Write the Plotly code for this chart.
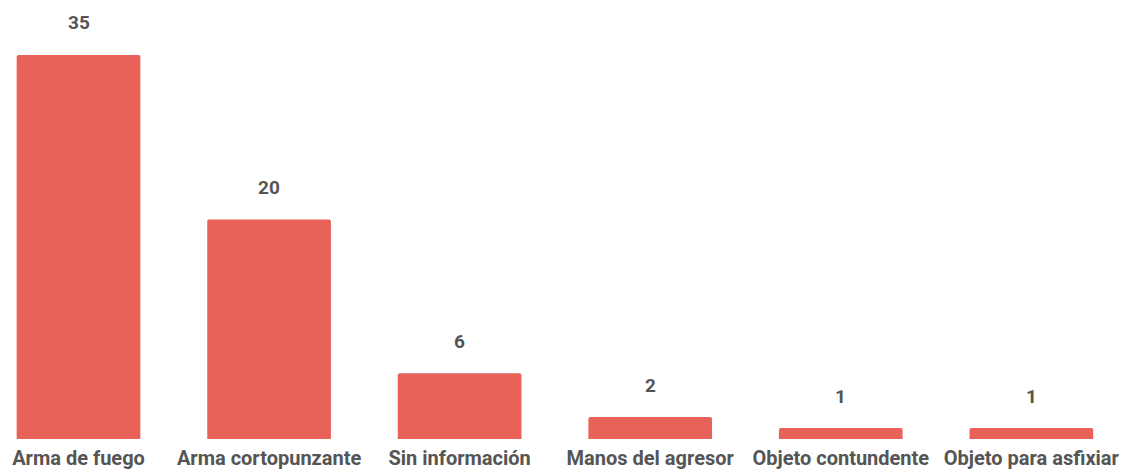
import plotly.graph_objects as go

categories = ["Arma de fuego", "Arma cortopunzante", "Sin información",
              "Manos del agresor", "Objeto contundente", "Objeto para asfixiar"]
values = [35, 20, 6, 2, 1, 1]

bar_color = "#E8625A"
text_color = "#555555"

fig = go.Figure()
fig.add_trace(go.Bar(
    x=list(range(len(categories))), y=values,
    marker=dict(color=bar_color, line=dict(width=0), cornerradius=2),
    hoverinfo="skip",
))

for i, v in enumerate(values):
    fig.add_annotation(x=i, y=v, text=str(v), showarrow=False,
                       yanchor="middle", yshift=32,
                       font=dict(family="Roboto", size=19, color=text_color, weight="bold"))

fig.update_layout(
    width=1123, height=470,
    margin=dict(l=0, r=0, t=0, b=31, autoexpand=False),
    paper_bgcolor="white", plot_bgcolor="white",
    bargap=0.351,
    showlegend=False,
    xaxis=dict(
        range=[-0.412, 5.481],
        automargin=False,
        tickmode="array",
        tickvals=list(range(len(categories))),
        ticktext=categories,
        tickfont=dict(family="Roboto", size=20, color=text_color, weight="bold"),
        ticks="outside", ticklen=1, tickcolor="rgba(0,0,0,0)",
        showgrid=False, zeroline=False, showline=False,
    ),
    yaxis=dict(range=[0, 40], visible=False, showgrid=False, zeroline=False, automargin=False),
)

fig.write_html("out.html", config={"displayModeBar": False},
               post_script="document.body.style.margin='0';document.body.style.overflow='hidden';")
